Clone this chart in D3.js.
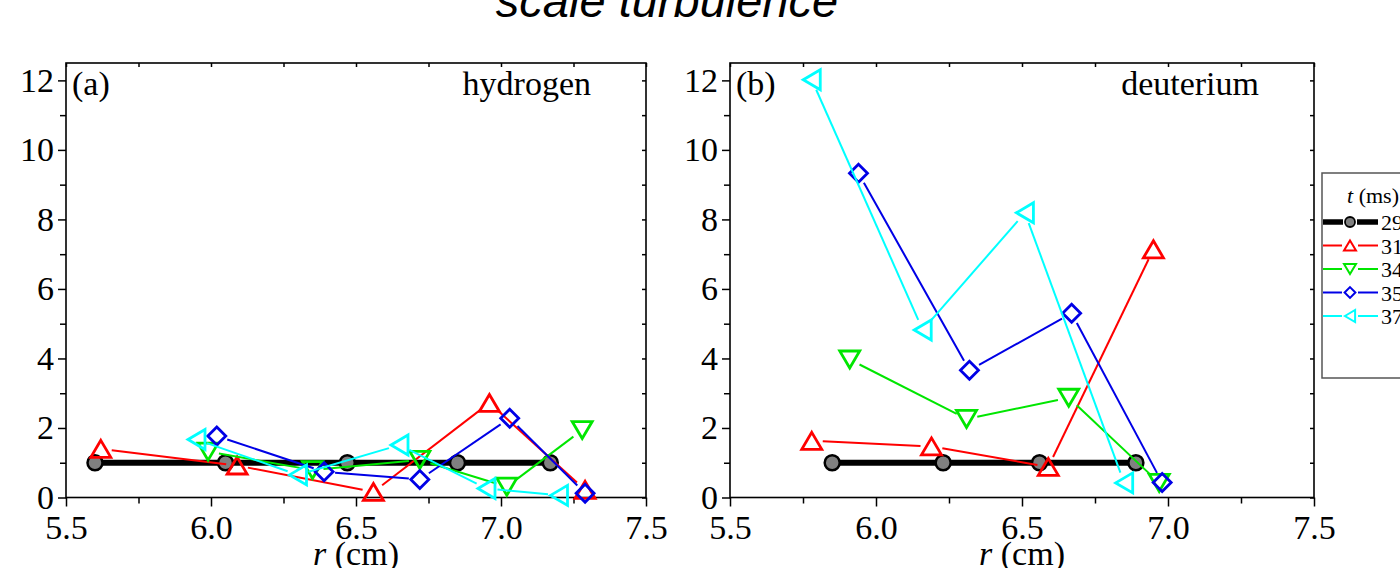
<!DOCTYPE html>
<html>
<head>
<meta charset="utf-8">
<script src="https://cdn.jsdelivr.net/npm/d3@7"></script>
<style>
  html, body { margin: 0; padding: 0; background: #fff; }
  svg { display: block; }
  .tick text { font-family: 'Liberation Serif', 'Times New Roman', serif; font-size: 34px; fill: #000; }
  .tick line { stroke: #000; stroke-width: 1.5px; }
  .serif { font-family: 'Liberation Serif', 'Times New Roman', serif; fill: #000; }
</style>
</head>
<body>
<svg id="chart" width="1400" height="568"></svg>
<script>
// times in ms (legend)
const times = ['29', '31', '34', '35', '37'];
const colors = ['#000000', '#ff0000', '#00e600', '#0000e6', '#00ffff'];
const markers = ['circle', 'up', 'down', 'diamond', 'left'];

// panel (a) hydrogen: r (cm) and normalized values per time
const hX29 = [5.60, 6.05, 6.47, 6.85, 7.17];
const hY29 = [1.0, 1.0, 1.0, 1.0, 1.0];
const hX31 = [5.62, 6.09, 6.56, 6.96, 7.29];
const hY31 = [1.40, 0.92, 0.16, 2.72, 0.22];
const hX34 = [5.99, 6.35, 6.72, 7.02, 7.28];
const hY34 = [1.32, 0.79, 1.08, 0.31, 1.94];
const hX35 = [6.02, 6.39, 6.72, 7.03, 7.29];
const hY35 = [1.77, 0.74, 0.52, 2.28, 0.12];
const hX37 = [5.95, 6.30, 6.65, 6.95, 7.20];
const hY37 = [1.67, 0.65, 1.51, 0.26, 0.06];

// panel (b) deuterium
const dX29 = [5.85, 6.23, 6.56, 6.89];
const dY29 = [1.0, 1.0, 1.0, 1.0];
const dX31 = [5.78, 6.19, 6.59, 6.95];
const dY31 = [1.63, 1.47, 0.88, 7.14];
const dX34 = [5.91, 6.31, 6.66, 6.97];
const dY34 = [3.97, 2.26, 2.87, 0.42];
const dX35 = [5.94, 6.32, 6.67, 6.98];
const dY35 = [9.33, 3.66, 5.30, 0.43];
const dX37 = [5.78, 6.16, 6.51, 6.85];
const dY37 = [12.02, 4.82, 8.19, 0.42];

const xMajor = [5.5, 6.0, 6.5, 7.0, 7.5];
const xMinor = [5.75, 6.25, 6.75, 7.25];
const yMajor = [0, 2, 4, 6, 8, 10, 12];
const yMinor = [1, 3, 5, 7, 9, 11];

const svg = d3.select('#chart');
const plotTop = 63;
const plotBottom = 497.5;

const zip = (xs, ys) => xs.map((x, i) => [x, ys[i]]);

const panels = [
  {
    left: 66, right: 646, tag: '(a)', name: 'hydrogen',
    series: [zip(hX29, hY29), zip(hX31, hY31), zip(hX34, hY34), zip(hX35, hY35), zip(hX37, hY37)],
  },
  {
    left: 730, right: 1314, tag: '(b)', name: 'deuterium',
    series: [zip(dX29, dY29), zip(dX31, dY31), zip(dX34, dY34), zip(dX35, dY35), zip(dX37, dY37)],
  },
];

function markerPath(kind, s) {
  // s = scale factor (1 for plot, smaller in legend)
  if (kind === 'up') return `M0,${-8.5 * s}L${10 * s},${8.5 * s}L${-10 * s},${8.5 * s}Z`;
  if (kind === 'down') return `M0,${8.5 * s}L${10 * s},${-8.5 * s}L${-10 * s},${-8.5 * s}Z`;
  if (kind === 'diamond') return `M0,${-9 * s}L${9 * s},0L0,${9 * s}L${-9 * s},0Z`;
  if (kind === 'left') return `M${-8.5 * s},0L${8.5 * s},${-10 * s}L${8.5 * s},${10 * s}Z`;
  return null;
}

// shorten a segment at both ends so the line stops at the hollow marker
function gapSegment(p0, p1, g) {
  const dx = p1[0] - p0[0];
  const dy = p1[1] - p0[1];
  const len = Math.hypot(dx, dy);
  if (len <= 2 * g) return null;
  const ux = dx / len;
  const uy = dy / len;
  return [p0[0] + ux * g, p0[1] + uy * g, p1[0] - ux * g, p1[1] - uy * g];
}

function drawPanel(p) {
  const x = d3.scaleLinear().domain([5.5, 7.5]).range([p.left, p.right]);
  const y = d3.scaleLinear().domain([0, 12.5]).range([plotBottom, plotTop]);
  const g = svg.append('g');

  // axes
  g.append('g').attr('transform', `translate(0,${plotBottom})`)
    .call(d3.axisBottom(x).tickValues(xMajor).tickFormat(d3.format('.1f')).tickSize(9).tickPadding(8))
    .call((a) => a.select('.domain').remove());
  g.append('g').attr('transform', `translate(0,${plotBottom})`)
    .call(d3.axisBottom(x).tickValues(xMinor).tickFormat('').tickSize(6))
    .call((a) => a.select('.domain').remove());
  g.append('g').attr('transform', `translate(0,${plotTop})`)
    .call(d3.axisBottom(x).tickValues(xMajor.concat(xMinor)).tickFormat('').tickSize(4))
    .call((a) => a.select('.domain').remove());

  g.append('g').attr('transform', `translate(${p.left},0)`)
    .call(d3.axisLeft(y).tickValues(yMajor).tickSize(8).tickPadding(4))
    .call((a) => a.select('.domain').remove());
  g.append('g').attr('transform', `translate(${p.left},0)`)
    .call(d3.axisLeft(y).tickValues(yMinor).tickFormat('').tickSize(6))
    .call((a) => a.select('.domain').remove());
  g.append('g').attr('transform', `translate(${p.right},0)`)
    .call(d3.axisLeft(y).tickValues(yMajor.concat(yMinor)).tickFormat('').tickSize(4))
    .call((a) => a.select('.domain').remove());

  g.append('rect')
    .attr('x', p.left).attr('y', plotTop)
    .attr('width', p.right - p.left).attr('height', plotBottom - plotTop)
    .attr('fill', 'none').attr('stroke', '#000').attr('stroke-width', 1.6);

  // series
  p.series.forEach((pts, i) => {
    const px = pts.map((d) => [x(d[0]), y(d[1])]);
    if (markers[i] === 'circle') {
      g.append('path')
        .attr('d', d3.line()(px))
        .attr('fill', 'none').attr('stroke', '#000').attr('stroke-width', 6);
      g.selectAll(null).data(px).enter().append('circle')
        .attr('cx', (d) => d[0]).attr('cy', (d) => d[1]).attr('r', 7.5)
        .attr('fill', '#808080').attr('stroke', '#000').attr('stroke-width', 2.5);
      return;
    }
    const segs = d3.pairs(px).map(([a, b]) => gapSegment(a, b, 11)).filter(Boolean);
    g.selectAll(null).data(segs).enter().append('line')
      .attr('x1', (d) => d[0]).attr('y1', (d) => d[1])
      .attr('x2', (d) => d[2]).attr('y2', (d) => d[3])
      .attr('stroke', colors[i]).attr('stroke-width', 2);
    g.selectAll(null).data(px).enter().append('path')
      .attr('transform', (d) => `translate(${d[0]},${d[1]})`)
      .attr('d', markerPath(markers[i], 1))
      .attr('fill', 'none').attr('stroke', colors[i]).attr('stroke-width', 2.8)
      .attr('stroke-linejoin', 'miter');
  });

  // labels
  g.append('text').attr('class', 'serif')
    .attr('x', p.left + 6).attr('y', 95)
    .style('font-size', '34px').text(p.tag);
  g.append('text').attr('class', 'serif')
    .attr('x', p.right - 55).attr('y', 95).attr('text-anchor', 'end')
    .style('font-size', '34px').text(p.name);

  const xl = g.append('text').attr('class', 'serif')
    .attr('x', (p.left + p.right) / 2).attr('y', 565).attr('text-anchor', 'middle')
    .style('font-size', '34px');
  xl.append('tspan').style('font-style', 'italic').text('r');
  xl.append('tspan').text(' (cm)');
}

panels.forEach(drawPanel);

// title (top line cut off by the frame)
svg.append('text')
  .attr('x', 667).attr('y', 17).attr('text-anchor', 'middle')
  .style('font-family', "'Liberation Sans', Arial, sans-serif")
  .style('font-style', 'italic').style('font-size', '47px')
  .text('scale turbulence');

// legend
const lg = svg.append('g');
lg.append('rect')
  .attr('x', 1322).attr('y', 173).attr('width', 110).attr('height', 205)
  .attr('fill', '#fff').attr('stroke', '#555').attr('stroke-width', 1.5);
const head = lg.append('text').attr('class', 'serif')
  .attr('x', 1347).attr('y', 203).style('font-size', '22px');
head.append('tspan').style('font-style', 'italic').text('t');
head.append('tspan').text(' (ms)');

const legY = d3.scalePoint().domain(times).range([222, 316]);
times.forEach((t, i) => {
  const cy = legY(t);
  const gap = i === 0 ? 7 : 8;
  const w = i === 0 ? 5.5 : 2;
  lg.append('line').attr('x1', 1323).attr('x2', 1350 - gap).attr('y1', cy).attr('y2', cy)
    .attr('stroke', colors[i]).attr('stroke-width', w);
  lg.append('line').attr('x1', 1350 + gap).attr('x2', 1378).attr('y1', cy).attr('y2', cy)
    .attr('stroke', colors[i]).attr('stroke-width', w);
  if (markers[i] === 'circle') {
    lg.append('circle').attr('cx', 1350).attr('cy', cy).attr('r', 5)
      .attr('fill', '#808080').attr('stroke', '#000').attr('stroke-width', 1.8);
  } else {
    lg.append('path').attr('transform', `translate(1350,${cy})`)
      .attr('d', markerPath(markers[i], 0.6))
      .attr('fill', 'none').attr('stroke', colors[i]).attr('stroke-width', 2);
  }
  lg.append('text').attr('class', 'serif')
    .attr('x', 1381).attr('y', cy + 8).style('font-size', '22px').text(t);
});
</script>
</body>
</html>
